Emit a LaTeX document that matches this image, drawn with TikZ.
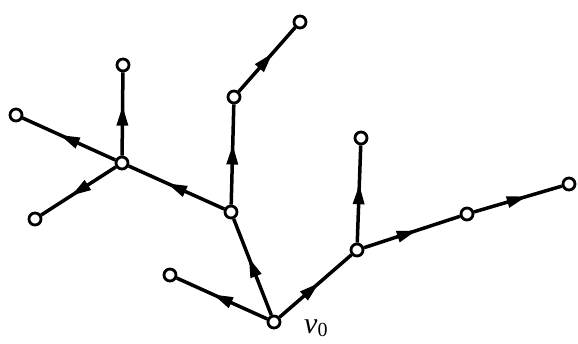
\documentclass[tikz,border=0pt]{standalone}
\usepackage{fontspec}
\setmainfont{Liberation Serif}
\usetikzlibrary{decorations.markings,arrows.meta}
\begin{document}
\begin{tikzpicture}[x=1pt,y=-1pt,
  vtx/.style={circle,draw=black,fill=white,line width=2.8pt,inner sep=0pt,minimum size=12pt},
  arc/.style={line width=3.5pt,postaction={decorate},decoration={markings,
     mark=at position #1 with {\arrow{Triangle[length=20pt,width=11pt]}}}},
  arc/.default=0.55]
\useasboundingbox (0,0) rectangle (578,343);
\node[vtx] (v0) at (274,322) {};
\node[vtx] (a) at (231,212) {};
\node[vtx] (l) at (170,275) {};
\node[vtx] (c) at (122,163) {};
\node[vtx] (ct) at (123,65) {};
\node[vtx] (cl) at (16,115) {};
\node[vtx] (cb) at (35,219) {};
\node[vtx] (m) at (234,97) {};
\node[vtx] (mt) at (300,22) {};
\node[vtx] (b) at (357,250) {};
\node[vtx] (bt) at (361,138) {};
\node[vtx] (r) at (467,214) {};
\node[vtx] (rr) at (569,184) {};
\draw[arc=0.6] (v0) -- (l);
\draw[arc=0.6] (v0) -- (a);
\draw[arc=0.6] (a) -- (c);
\draw[arc=0.6] (c) -- (ct);
\draw[arc=0.6] (c) -- (cl);
\draw[arc=0.6] (c) -- (cb);
\draw[arc=0.6] (a) -- (m);
\draw[arc=0.6] (m) -- (mt);
\draw[arc=0.55] (v0) -- (b);
\draw[arc=0.6] (b) -- (bt);
\draw[arc=0.55] (b) -- (r);
\draw[arc=0.6] (r) -- (rr);
\node[font=\fontsize{30}{34}\selectfont,anchor=base west,inner sep=0pt] (lab) at (304,333)
  {\textit{v}\raisebox{-0.1em}{\fontsize{20}{22}\selectfont 0}};
\end{tikzpicture}
\end{document}
